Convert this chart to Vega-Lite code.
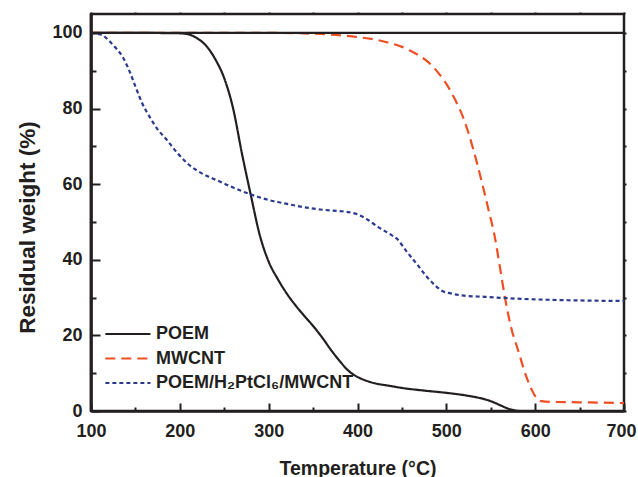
{
  "$schema": "https://vega.github.io/schema/vega-lite/v6.json",
  "width": 533,
  "height": 397,
  "autosize": {"type": "none"},
  "padding": {"left": 91, "top": 14, "right": 14, "bottom": 66},
  "background": "white",
  "config": {
    "font": "Liberation Sans",
    "view": {"stroke": "#231f20", "strokeWidth": 2.5},
    "axis": {
      "grid": false,
      "labelFont": "Liberation Sans",
      "labelFontWeight": "bold",
      "labelFontSize": 18,
      "labelColor": "#231f20",
      "labelFlush": false,
      "labelOverlap": false,
      "titleFont": "Liberation Sans",
      "titleFontWeight": "bold",
      "titleColor": "#231f20",
      "domainColor": "#231f20",
      "domainWidth": 2.5,
      "tickColor": "#231f20",
      "tickWidth": 2
    },
    "legend": {
      "orient": "none",
      "legendX": 11,
      "legendY": 311,
      "symbolType": "M-1,0H7",
      "symbolSize": 127,
      "symbolStrokeWidth": 2,
      "labelFont": "Liberation Sans",
      "labelFontSize": 18,
      "labelFontWeight": "bold",
      "labelColor": "#231f20",
      "labelOffset": 36,
      "rowPadding": 6.5,
      "labelLimit": 400
    }
  },
  "layer": [
    {
      "data": {
        "values": [
          {"sample": "POEM", "T": 100, "W": 100},
          {"sample": "POEM", "T": 150, "W": 100},
          {"sample": "POEM", "T": 200, "W": 99.9},
          {"sample": "POEM", "T": 210, "W": 99.6},
          {"sample": "POEM", "T": 220, "W": 98.5},
          {"sample": "POEM", "T": 230, "W": 96.5},
          {"sample": "POEM", "T": 240, "W": 93},
          {"sample": "POEM", "T": 250, "W": 88},
          {"sample": "POEM", "T": 260, "W": 80},
          {"sample": "POEM", "T": 270, "W": 68},
          {"sample": "POEM", "T": 280, "W": 57},
          {"sample": "POEM", "T": 290, "W": 46.5},
          {"sample": "POEM", "T": 300, "W": 39.5},
          {"sample": "POEM", "T": 310, "W": 35},
          {"sample": "POEM", "T": 320, "W": 31.2},
          {"sample": "POEM", "T": 330, "W": 28},
          {"sample": "POEM", "T": 340, "W": 25.2},
          {"sample": "POEM", "T": 350, "W": 22.5},
          {"sample": "POEM", "T": 360, "W": 19.5},
          {"sample": "POEM", "T": 370, "W": 16.2},
          {"sample": "POEM", "T": 380, "W": 13.2},
          {"sample": "POEM", "T": 390, "W": 10.6},
          {"sample": "POEM", "T": 400, "W": 9},
          {"sample": "POEM", "T": 410, "W": 8},
          {"sample": "POEM", "T": 420, "W": 7.3},
          {"sample": "POEM", "T": 435, "W": 6.7},
          {"sample": "POEM", "T": 450, "W": 6.1},
          {"sample": "POEM", "T": 475, "W": 5.4},
          {"sample": "POEM", "T": 500, "W": 4.8},
          {"sample": "POEM", "T": 525, "W": 4.0},
          {"sample": "POEM", "T": 540, "W": 3.3},
          {"sample": "POEM", "T": 550, "W": 2.6},
          {"sample": "POEM", "T": 560, "W": 1.6},
          {"sample": "POEM", "T": 570, "W": 0.6},
          {"sample": "POEM", "T": 578, "W": 0.1},
          {"sample": "POEM", "T": 582, "W": 0},

          {"sample": "MWCNT", "T": 100, "W": 100},
          {"sample": "MWCNT", "T": 200, "W": 100},
          {"sample": "MWCNT", "T": 300, "W": 100},
          {"sample": "MWCNT", "T": 350, "W": 99.8},
          {"sample": "MWCNT", "T": 400, "W": 98.9},
          {"sample": "MWCNT", "T": 425, "W": 98},
          {"sample": "MWCNT", "T": 435, "W": 97.4},
          {"sample": "MWCNT", "T": 450, "W": 96.3},
          {"sample": "MWCNT", "T": 460, "W": 95.2},
          {"sample": "MWCNT", "T": 470, "W": 93.9},
          {"sample": "MWCNT", "T": 480, "W": 92.2},
          {"sample": "MWCNT", "T": 490, "W": 89.7},
          {"sample": "MWCNT", "T": 500, "W": 86.5},
          {"sample": "MWCNT", "T": 510, "W": 82.3},
          {"sample": "MWCNT", "T": 520, "W": 77},
          {"sample": "MWCNT", "T": 530, "W": 69.5},
          {"sample": "MWCNT", "T": 540, "W": 60.5},
          {"sample": "MWCNT", "T": 547, "W": 53.7},
          {"sample": "MWCNT", "T": 555, "W": 45.5},
          {"sample": "MWCNT", "T": 560, "W": 38.5},
          {"sample": "MWCNT", "T": 566, "W": 30},
          {"sample": "MWCNT", "T": 573, "W": 22},
          {"sample": "MWCNT", "T": 581, "W": 15.9},
          {"sample": "MWCNT", "T": 588, "W": 10.5},
          {"sample": "MWCNT", "T": 595, "W": 6.2},
          {"sample": "MWCNT", "T": 602, "W": 3.3},
          {"sample": "MWCNT", "T": 607, "W": 2.6},
          {"sample": "MWCNT", "T": 620, "W": 2.4},
          {"sample": "MWCNT", "T": 650, "W": 2.3},
          {"sample": "MWCNT", "T": 700, "W": 2.1},

          {"sample": "POEM/H₂PtCl₆/MWCNT", "T": 100, "W": 100},
          {"sample": "POEM/H₂PtCl₆/MWCNT", "T": 106, "W": 99.8},
          {"sample": "POEM/H₂PtCl₆/MWCNT", "T": 113, "W": 99.4},
          {"sample": "POEM/H₂PtCl₆/MWCNT", "T": 120, "W": 98},
          {"sample": "POEM/H₂PtCl₆/MWCNT", "T": 128, "W": 96},
          {"sample": "POEM/H₂PtCl₆/MWCNT", "T": 136, "W": 93.5},
          {"sample": "POEM/H₂PtCl₆/MWCNT", "T": 144, "W": 89.5},
          {"sample": "POEM/H₂PtCl₆/MWCNT", "T": 151, "W": 85.2},
          {"sample": "POEM/H₂PtCl₆/MWCNT", "T": 158, "W": 81.2},
          {"sample": "POEM/H₂PtCl₆/MWCNT", "T": 166, "W": 77.8},
          {"sample": "POEM/H₂PtCl₆/MWCNT", "T": 175, "W": 74.5},
          {"sample": "POEM/H₂PtCl₆/MWCNT", "T": 185, "W": 71.8},
          {"sample": "POEM/H₂PtCl₆/MWCNT", "T": 197, "W": 68.3},
          {"sample": "POEM/H₂PtCl₆/MWCNT", "T": 208, "W": 65.6},
          {"sample": "POEM/H₂PtCl₆/MWCNT", "T": 220, "W": 63.5},
          {"sample": "POEM/H₂PtCl₆/MWCNT", "T": 232, "W": 62},
          {"sample": "POEM/H₂PtCl₆/MWCNT", "T": 242, "W": 61},
          {"sample": "POEM/H₂PtCl₆/MWCNT", "T": 260, "W": 59.1},
          {"sample": "POEM/H₂PtCl₆/MWCNT", "T": 282, "W": 57.1},
          {"sample": "POEM/H₂PtCl₆/MWCNT", "T": 300, "W": 55.8},
          {"sample": "POEM/H₂PtCl₆/MWCNT", "T": 316, "W": 55},
          {"sample": "POEM/H₂PtCl₆/MWCNT", "T": 340, "W": 53.9},
          {"sample": "POEM/H₂PtCl₆/MWCNT", "T": 358, "W": 53.3},
          {"sample": "POEM/H₂PtCl₆/MWCNT", "T": 378, "W": 52.9},
          {"sample": "POEM/H₂PtCl₆/MWCNT", "T": 390, "W": 52.6},
          {"sample": "POEM/H₂PtCl₆/MWCNT", "T": 400, "W": 52},
          {"sample": "POEM/H₂PtCl₆/MWCNT", "T": 412, "W": 50.5},
          {"sample": "POEM/H₂PtCl₆/MWCNT", "T": 423, "W": 48.7},
          {"sample": "POEM/H₂PtCl₆/MWCNT", "T": 435, "W": 47},
          {"sample": "POEM/H₂PtCl₆/MWCNT", "T": 445, "W": 45.4},
          {"sample": "POEM/H₂PtCl₆/MWCNT", "T": 455, "W": 42.3},
          {"sample": "POEM/H₂PtCl₆/MWCNT", "T": 468, "W": 38.5},
          {"sample": "POEM/H₂PtCl₆/MWCNT", "T": 478, "W": 35.5},
          {"sample": "POEM/H₂PtCl₆/MWCNT", "T": 487, "W": 33.3},
          {"sample": "POEM/H₂PtCl₆/MWCNT", "T": 495, "W": 31.8},
          {"sample": "POEM/H₂PtCl₆/MWCNT", "T": 505, "W": 31.1},
          {"sample": "POEM/H₂PtCl₆/MWCNT", "T": 520, "W": 30.5},
          {"sample": "POEM/H₂PtCl₆/MWCNT", "T": 543, "W": 30.2},
          {"sample": "POEM/H₂PtCl₆/MWCNT", "T": 580, "W": 29.7},
          {"sample": "POEM/H₂PtCl₆/MWCNT", "T": 618, "W": 29.4},
          {"sample": "POEM/H₂PtCl₆/MWCNT", "T": 660, "W": 29.2},
          {"sample": "POEM/H₂PtCl₆/MWCNT", "T": 700, "W": 29.1}
        ]
      },
      "mark": {"type": "line", "interpolate": "monotone", "strokeWidth": 2.2, "clip": true},
      "encoding": {
        "x": {
          "field": "T",
          "type": "quantitative",
          "scale": {"domain": [100, 700], "nice": false},
          "axis": {
            "title": "Temperature (°C)",
            "titleFontSize": 19.5,
            "titleBaseline": "alphabetic",
            "titleY": 63,
            "values": [100, 150, 200, 250, 300, 350, 400, 450, 500, 550, 600, 650, 700],
            "labelExpr": "datum.value % 100 === 0 ? datum.label : ''",
            "labelOffset": {"condition": {"test": "datum.value === 700", "value": -3}, "value": 0},
            "tickSize": {"condition": {"test": "datum.value % 100 === 0", "value": -8}, "value": -4},
            "labelPadding": 19.5
          }
        },
        "y": {
          "field": "W",
          "type": "quantitative",
          "scale": {"domain": [0, 105], "nice": false},
          "axis": {
            "title": "Residual weight (%)",
            "titleFontSize": 22.5,
            "titleBaseline": "alphabetic",
            "titleX": -57,
            "titleY": 213,
            "values": [0, 10, 20, 30, 40, 50, 60, 70, 80, 90, 100],
            "labelExpr": "datum.value % 20 === 0 ? datum.label : ''",
            "tickSize": {"condition": {"test": "datum.value % 20 === 0", "value": -9}, "value": -5},
            "labelPadding": 18
          }
        },
        "color": {
          "field": "sample",
          "type": "nominal",
          "scale": {
            "domain": ["POEM", "MWCNT", "POEM/H₂PtCl₆/MWCNT"],
            "range": ["#231f20", "#f04e23", "#2b3990"]
          },
          "legend": {"title": null}
        },
        "strokeDash": {
          "field": "sample",
          "type": "nominal",
          "scale": {
            "domain": ["POEM", "MWCNT", "POEM/H₂PtCl₆/MWCNT"],
            "range": [[1, 0], [10, 6], [4, 3]]
          },
          "legend": {"title": null}
        }
      }
    },
    {
      "data": {"values": [{}]},
      "mark": {"type": "rule", "color": "#231f20", "strokeWidth": 2.2},
      "encoding": {
        "y": {
          "datum": 100,
          "type": "quantitative",
          "axis": {
            "orient": "right",
            "title": null,
            "labels": false,
            "domain": false,
            "values": [0, 10, 20, 30, 40, 50, 60, 70, 80, 90, 100],
            "tickSize": 2
          }
        }
      }
    },
    {
      "data": {"values": [{}]},
      "mark": {"type": "rule", "color": "#231f20", "strokeWidth": 2.5},
      "encoding": {
        "x": {
          "datum": 100,
          "type": "quantitative",
          "axis": {
            "orient": "top",
            "title": null,
            "labels": false,
            "domain": false,
            "values": [100, 150, 200, 250, 300, 350, 400, 450, 500, 550, 600, 650, 700],
            "tickSize": 2
          }
        }
      }
    }
  ],
  "resolve": {"axis": {"x": "independent", "y": "independent"}}
}
